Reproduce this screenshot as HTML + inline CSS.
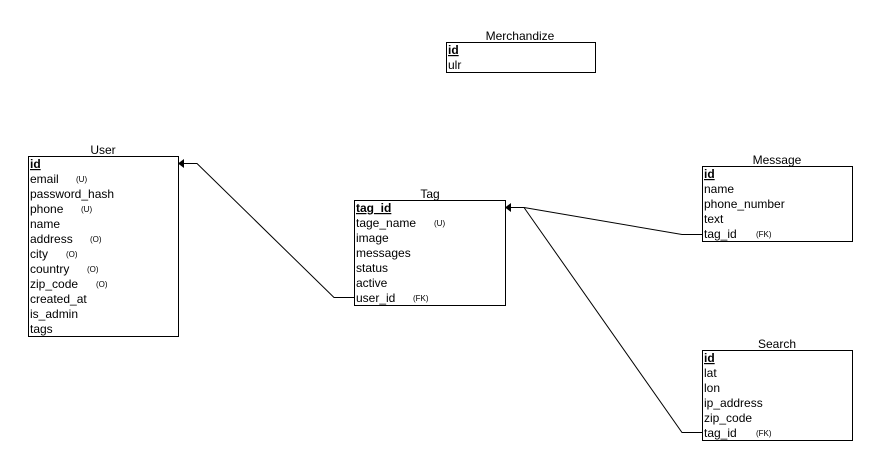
<!DOCTYPE html>
<html><head><meta charset="utf-8"><style>
html,body{margin:0;padding:0;background:#fff;}
svg{display:block;font-family:"Liberation Sans",Arial,sans-serif;}
.t{font-size:12px;fill:#000;}
.s{font-size:8px;fill:#000;}
.b{font-weight:bold;text-decoration:underline;}
</style></head><body>
<svg width="878" height="466" viewBox="0 0 878 466" xmlns="http://www.w3.org/2000/svg">
<g fill="none" stroke="#000">
<rect x="28.5" y="156.5" width="150" height="180"/>
<rect x="354.5" y="200.5" width="151" height="105"/>
<rect x="702.5" y="166.5" width="150" height="75"/>
<rect x="702.5" y="350.5" width="150" height="90"/>
<rect x="446.5" y="42.5" width="149" height="30"/>
<polyline points="184,163.5 197,163.5 334,297.5 354,297.5"/>
<polyline points="511,207.5 524,207.5 682,234.5 702,234.5"/>
<polyline points="524,207.5 682,432.5 702,432.5"/>
</g>
<polygon points="178,163.5 184,159 184,168" fill="#000"/>
<polygon points="505,207.5 511,203 511,212" fill="#000"/>
<!-- titles -->
<text class="t" x="103" y="154" text-anchor="middle">User</text>
<text class="t" x="430" y="198" text-anchor="middle">Tag</text>
<text class="t" x="777" y="164" text-anchor="middle">Message</text>
<text class="t" x="777" y="348" text-anchor="middle">Search</text>
<text class="t" x="520" y="40" text-anchor="middle">Merchandize</text>
<!-- User -->
<g class="t">
<text x="30" y="168" class="t b">id</text>
<text x="30" y="183">email</text>
<text x="30" y="198">password_hash</text>
<text x="30" y="213">phone</text>
<text x="30" y="228">name</text>
<text x="30" y="243">address</text>
<text x="30" y="258">city</text>
<text x="30" y="273">country</text>
<text x="30" y="288">zip_code</text>
<text x="30" y="303">created_at</text>
<text x="30" y="318">is_admin</text>
<text x="30" y="333">tags</text>
</g>
<text class="s" x="76" y="182">(U)</text>
<text class="s" x="81" y="212">(U)</text>
<text class="s" x="90" y="242">(O)</text>
<text class="s" x="66" y="257">(O)</text>
<text class="s" x="87" y="272">(O)</text>
<text class="s" x="96" y="287">(O)</text>
<!-- Tag -->
<text x="356" y="212" class="t b">tag_id</text>
<text x="356" y="227" class="t">tage_name</text>
<text x="356" y="242" class="t">image</text>
<text x="356" y="257" class="t">messages</text>
<text x="356" y="272" class="t">status</text>
<text x="356" y="287" class="t">active</text>
<text x="356" y="302" class="t">user_id</text>
<text class="s" x="434" y="226">(U)</text>
<text class="s" x="413" y="301">(FK)</text>
<!-- Message -->
<text x="704" y="178" class="t b">id</text>
<text x="704" y="193" class="t">name</text>
<text x="704" y="208" class="t">phone_number</text>
<text x="704" y="223" class="t">text</text>
<text x="704" y="238" class="t">tag_id</text>
<text class="s" x="756" y="237">(FK)</text>
<!-- Search -->
<text x="704" y="362" class="t b">id</text>
<text x="704" y="377" class="t">lat</text>
<text x="704" y="392" class="t">lon</text>
<text x="704" y="407" class="t">ip_address</text>
<text x="704" y="422" class="t">zip_code</text>
<text x="704" y="437" class="t">tag_id</text>
<text class="s" x="756" y="436">(FK)</text>
<!-- Merchandize -->
<text x="448" y="54" class="t b">id</text>
<text x="448" y="69" class="t">ulr</text>
</svg>
</body></html>
